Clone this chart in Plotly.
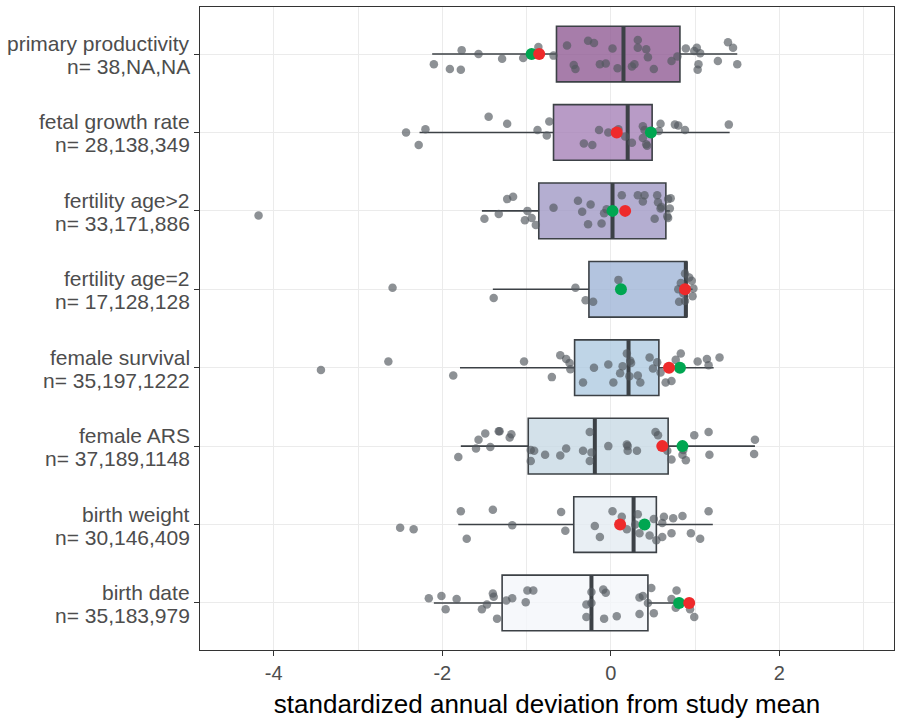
import plotly.graph_objects as go

# ---------------- data (top to bottom) ----------------
categories = ["primary productivity", "fetal growth rate", "fertility age>2", "fertility age=2",
              "female survival", "female ARS", "birth weight", "birth date"]
n_labels = ["n= 38,NA,NA", "n= 28,138,349", "n= 33,171,886", "n= 17,128,128",
            "n= 35,197,1222", "n= 37,189,1148", "n= 30,146,409", "n= 35,183,979"]

q1 = [-0.645, -0.68, -0.855, -0.26, -0.43, -0.98, -0.44, -1.29]
median = [0.15, 0.20, 0.02, 0.89, 0.21, -0.19, 0.27, -0.23]
q3 = [0.82, 0.49, 0.653, 0.90, 0.57, 0.68, 0.54, 0.44]
lower = [-2.12, -2.27, -1.53, -1.40, -1.79, -1.78, -1.81, -2.10]
upper = [1.50, 1.41, 0.70, 0.97, 1.22, 1.71, 1.21, 0.99]
red_mean = [-0.85, 0.07, 0.17, 0.88, 0.69, 0.61, 0.11, 0.93]
green_mean = [-0.94, 0.475, 0.02, 0.12, 0.82, 0.85, 0.40, 0.81]

pp_vals = [-1.77, -1.57, -2.10, -1.91, -1.78, -1.29, -1.04, -0.86, -0.68, -0.52, -0.44, -0.42, -0.27,
           -0.20, -0.13, -0.06, 0.02, 0.08, 0.25, 0.28, 0.32, 0.32, 0.42, 0.44, 0.51, 0.72, 0.79, 0.89,
           0.99, 1.02, 1.06, 1.04, 1.03, 1.27, 1.39, 1.45, 1.50, -0.95]
pp_jit = [0.05, 0.00, -0.13, -0.19, -0.20, -0.06, -0.05, 0.09, -0.02, 0.11, -0.14, -0.19, 0.17, 0.14,
          -0.13, -0.12, 0.07, -0.18, -0.16, -0.13, 0.18, 0.08, 0.06, -0.04, -0.19, -0.09, -0.03, 0.07,
          0.04, 0.08, 0.01, -0.13, -0.20, -0.09, 0.15, 0.08, -0.13, 0.0]

fg_vals = [-2.43, -2.28, -2.20, -1.45, -1.23, -0.87, -0.76, -0.73, -0.32, -0.22, -0.14, -0.03, 0.09,
           0.17, 0.25, 0.38, 0.40, 0.38, 0.42, 0.43, 0.59, 0.57, 0.76, 0.80, 0.88, 1.40, 0.07, 0.47]
fg_jit = [0.00, -0.16, 0.04, 0.20, 0.11, 0.03, -0.04, 0.14, -0.14, -0.16, 0.03, 0.00, 0.04, -0.05,
          -0.13, 0.08, 0.03, -0.07, -0.15, -0.17, 0.11, 0.02, 0.10, 0.09, 0.03, 0.10, 0.0, 0.0]

fa_vals = [-4.18, -1.50, -1.33, -1.23, -1.16, -0.99, -1.02, -0.94, -0.89, -0.68, -0.39, -0.34, -0.24,
           -0.27, -0.11, -0.08, 0.13, 0.32, 0.38, 0.40, 0.55, 0.56, 0.59, 0.68, 0.71, 0.70, 0.67, 0.68,
           0.02, 0.17, 0.60, 0.52, -0.05]
fa_jit = [-0.06, -0.10, -0.04, 0.15, 0.18, 0.00, -0.12, -0.09, -0.18, 0.04, 0.13, -0.01, 0.08, -0.17,
          -0.16, -0.03, 0.20, 0.20, 0.12, 0.20, 0.20, 0.11, 0.03, 0.15, 0.16, 0.03, -0.07, -0.09, 0.0,
          0.0, 0.05, -0.10, 0.02]

f2_vals = [-2.59, -1.39, -0.42, -0.30, -0.21, 0.09, 0.81, 0.80, 0.83, 0.88, 0.93, 0.96, 0.97, 0.98,
           0.88, 0.88, 0.86]
f2_jit = [0.02, -0.11, 0.02, -0.14, -0.16, 0.12, -0.16, 0.00, 0.08, 0.20, 0.15, 0.11, -0.09, 0.01,
          -0.15, 0.0, -0.05]

fs_vals = [-3.44, -2.64, -1.87, -1.03, -0.70, -0.60, -0.53, -0.49, -0.48, -0.33, -0.20, -0.03, 0.03,
           0.11, 0.14, 0.19, 0.23, 0.24, 0.22, 0.32, 0.35, 0.46, 0.50, 0.55, 0.59, 0.65, 0.72, 0.77,
           0.83, 1.03, 1.14, 1.16, 1.29, 0.69, 0.82]
fs_jit = [-0.03, 0.08, -0.10, 0.08, -0.12, 0.16, 0.11, 0.06, -0.02, -0.19, 0.00, 0.04, -0.19, -0.07,
          0.02, 0.18, 0.09, 0.06, -0.11, -0.10, -0.19, 0.13, -0.01, 0.07, -0.06, -0.19, -0.17, 0.10,
          0.18, 0.08, 0.11, 0.03, 0.13, 0.0, 0.0]

ars_vals = [-1.81, -1.60, -1.57, -1.49, -1.43, -1.33, -1.32, -1.20, -1.18, -0.95, -0.95, -0.91, -0.78,
            -0.60, -0.53, -0.33, -0.25, -0.23, -0.25, -0.03, 0.19, 0.20, 0.20, 0.31, 0.53, 0.56, 0.67,
            0.72, 0.85, 0.86, 0.89, 0.99, 1.16, 1.17, 1.71, 1.70, 0.61]
ars_jit = [-0.14, -0.03, 0.08, 0.16, -0.01, 0.19, 0.19, 0.11, 0.15, -0.05, -0.19, -0.06, -0.11, -0.12,
           -0.03, -0.06, 0.18, -0.08, -0.19, 0.00, 0.02, 0.00, -0.06, -0.06, 0.18, 0.14, -0.06, -0.17,
           -0.11, -0.05, -0.18, 0.14, 0.18, -0.11, 0.08, -0.10, 0.0]

bw_vals = [-2.50, -2.34, -1.78, -1.71, -1.40, -1.17, -0.59, -0.54, -0.19, -0.13, 0.02, 0.13, 0.19,
           0.32, 0.29, 0.34, 0.46, 0.51, 0.54, 0.61, 0.63, 0.61, 0.72, 0.74, 0.85, 0.95, 1.06, 1.16,
           0.11, 0.40]
bw_jit = [-0.04, -0.06, 0.17, -0.18, 0.19, -0.01, 0.16, -0.08, -0.02, -0.16, 0.17, 0.10, -0.06, 0.13,
          0.00, -0.11, -0.14, 0.07, -0.20, 0.02, 0.10, -0.16, -0.11, 0.08, 0.11, -0.11, -0.18, 0.17,
          0.0, 0.0]

bd_vals = [-2.16, -2.01, -1.96, -1.83, -1.53, -1.47, -1.40, -1.39, -1.35, -1.24, -1.17, -1.01, -0.99,
           -0.92, -0.29, -0.29, -0.23, -0.09, -0.06, -0.08, 0.07, 0.34, 0.34, 0.38, 0.44, 0.48, 0.51,
           0.72, 0.78, 0.77, 0.94, 0.99, 0.93, 0.81, -0.23]
bd_jit = [0.06, 0.09, -0.08, 0.05, -0.08, -0.02, 0.12, 0.08, -0.20, 0.03, 0.06, 0.01, 0.16, 0.16,
          -0.02, -0.18, 0.14, 0.17, 0.13, -0.20, -0.17, -0.14, 0.07, 0.09, 0.00, 0.19, -0.13, 0.05,
          0.16, -0.06, -0.08, -0.18, 0.0, 0.0, 0.0]

x_ticks = [-4, -2, 0, 2]
x_title = "standardized annual deviation from study mean"

# ---------------- styling ----------------
box_fill = ["rgba(145,93,149,0.8)", "rgba(166,130,184,0.8)", "rgba(161,154,198,0.8)",
            "rgba(160,181,215,0.8)", "rgba(175,202,225,0.8)", "rgba(200,217,229,0.8)",
            "rgba(227,235,241,0.8)", "rgba(244,246,250,0.8)"]
outline = "#3c4146"
point_color = "rgba(82,88,94,0.66)"
red_color = "#EE2A2B"
green_color = "#00A651"
font_family = "Liberation Sans, Arial, sans-serif"
label_color = "#4d4d4d"
box_width = 0.71

point_values = [pp_vals, fg_vals, fa_vals, f2_vals, fs_vals, ars_vals, bw_vals, bd_vals]
point_jitter = [pp_jit, fg_jit, fa_jit, f2_jit, fs_jit, ars_jit, bw_jit, bd_jit]
positions = list(range(len(categories), 0, -1))

fig = go.Figure()

for i, pos in enumerate(positions):
    fig.add_trace(go.Box(
        y=[pos], q1=[q1[i]], median=[median[i]], q3=[q3[i]],
        lowerfence=[lower[i]], upperfence=[upper[i]],
        orientation="h", fillcolor=box_fill[i],
        line=dict(color=outline, width=1.6), whiskerwidth=0,
        width=box_width, boxpoints=False, showlegend=False, hoverinfo="skip"))

# thick median bars
mx, my = [], []
for i, pos in enumerate(positions):
    mx += [median[i], median[i], None]
    my += [pos - box_width / 2, pos + box_width / 2, None]
fig.add_trace(go.Scatter(x=mx, y=my, mode="lines", line=dict(color=outline, width=4),
                         showlegend=False, hoverinfo="skip"))

# jittered points
for i, pos in enumerate(positions):
    fig.add_trace(go.Scatter(
        x=point_values[i], y=[pos + j for j in point_jitter[i]], mode="markers",
        marker=dict(size=8.5, color=point_color, line=dict(width=0)),
        showlegend=False, hoverinfo="skip"))

fig.add_trace(go.Scatter(x=green_mean, y=positions, mode="markers",
                         marker=dict(size=12, color=green_color, line=dict(width=0)),
                         showlegend=False, hoverinfo="skip"))
fig.add_trace(go.Scatter(x=red_mean, y=positions, mode="markers",
                         marker=dict(size=12, color=red_color, line=dict(width=0)),
                         showlegend=False, hoverinfo="skip"))

# two-line category labels
for i, pos in enumerate(positions):
    fig.add_annotation(text=categories[i], x=0, xref="paper", y=pos, yref="y",
                       xanchor="right", yanchor="bottom", xshift=-8, yshift=-3,
                       showarrow=False, font=dict(size=21, color=label_color, family=font_family))
    fig.add_annotation(text=n_labels[i], x=0, xref="paper", y=pos, yref="y",
                       xanchor="right", yanchor="top", xshift=-8, yshift=1,
                       showarrow=False, font=dict(size=21, color=label_color, family=font_family))

fig.update_layout(
    width=898, height=719,
    margin=dict(l=200, r=4, t=7, b=69),
    plot_bgcolor="white", paper_bgcolor="white",
    font=dict(family=font_family),
    showlegend=False,
    xaxis=dict(
        range=[-4.875, 3.36], tickvals=x_ticks, ticktext=[str(t) for t in x_ticks],
        ticks="outside", ticklen=5, tickwidth=1.3, tickcolor="#333333",
        tickfont=dict(size=20, color=label_color),
        showgrid=True, gridcolor="#ebebeb", gridwidth=1.3,
        minor=dict(dtick=1, tick0=0, showgrid=True, gridcolor="#ebebeb", gridwidth=0.7, ticklen=0),
        zeroline=False, showline=True, mirror=True, linecolor="#333333", linewidth=1.3,
        title=dict(text=x_title, font=dict(size=26, color="black"), standoff=12),
    ),
    yaxis=dict(
        range=[0.4, 8.6], tickvals=positions, showticklabels=False,
        ticks="outside", ticklen=5, tickwidth=1.3, tickcolor="#333333",
        showgrid=True, gridcolor="#ebebeb", gridwidth=1.3,
        zeroline=False, showline=True, mirror=True, linecolor="#333333", linewidth=1.3,
    ),
)

fig.write_html("out.html", config={"displayModeBar": False},
               post_script="document.body.style.margin='0';document.body.style.padding='0';")
